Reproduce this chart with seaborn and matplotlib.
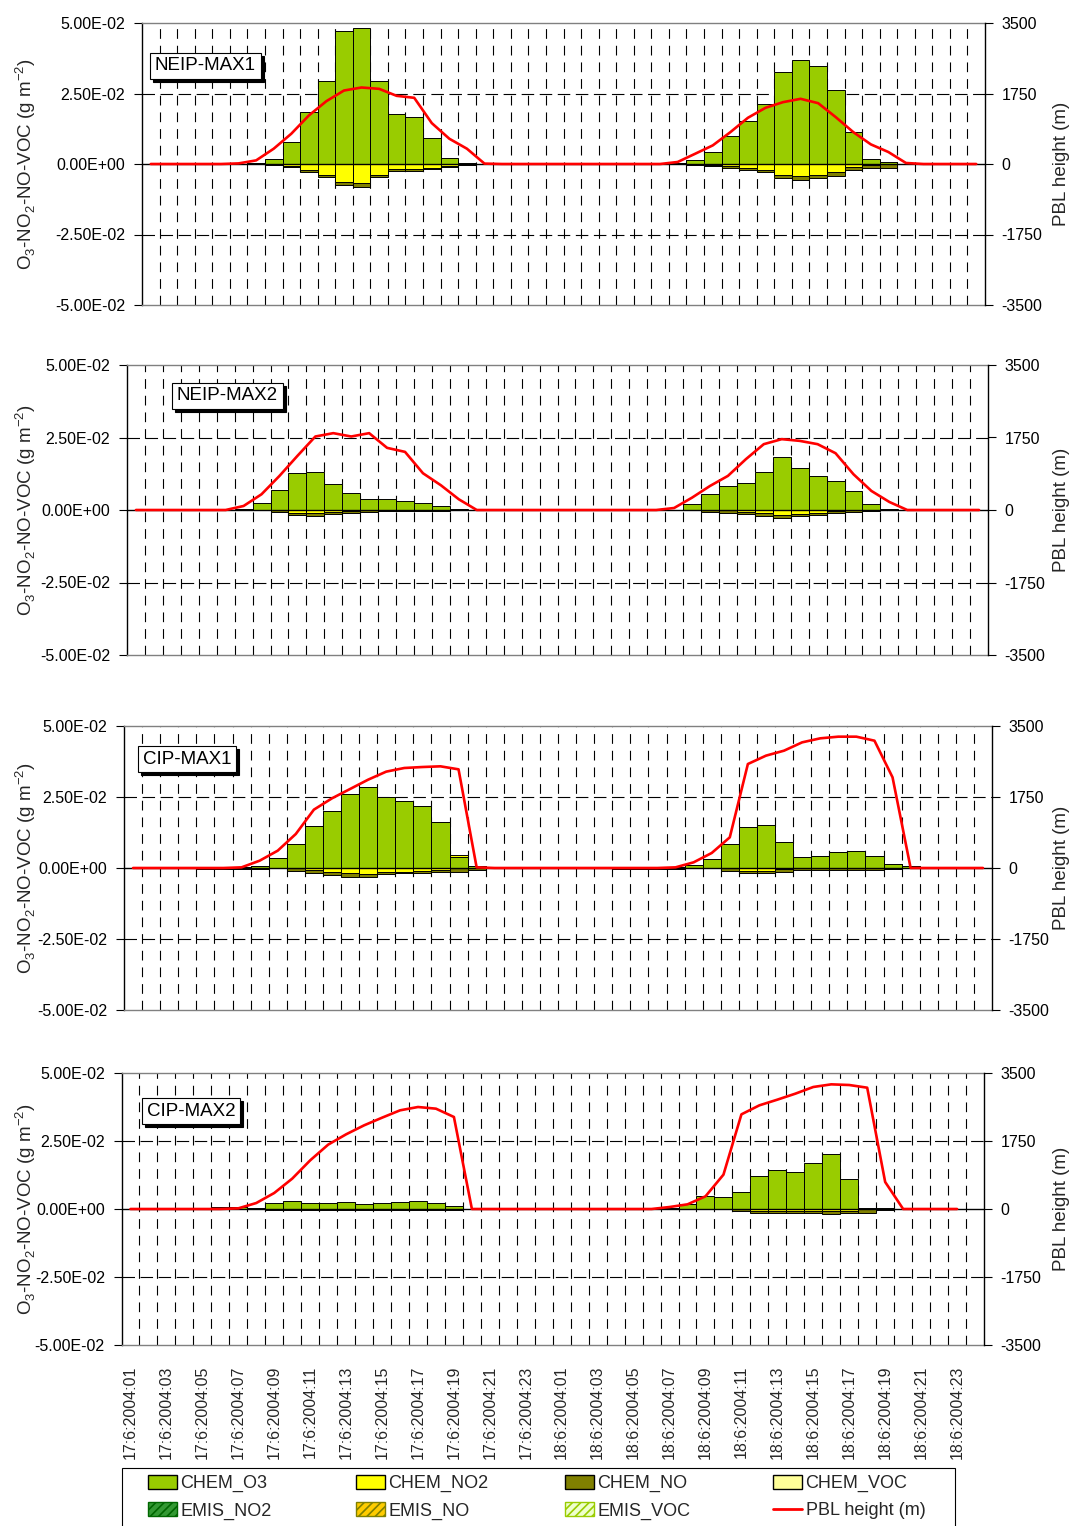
import matplotlib

matplotlib.use("Agg")

import matplotlib.pyplot as plt
import numpy as np
import pandas as pd
import seaborn as sns
from matplotlib.lines import Line2D
from matplotlib.patches import Patch, Rectangle
from matplotlib.transforms import offset_copy


# hourly categories, 17 and 18 June 2004 (48 bars per panel)
N_HOURS = 48
TICK_LABELS = [
    "17:6:2004:01", "17:6:2004:03", "17:6:2004:05", "17:6:2004:07",
    "17:6:2004:09", "17:6:2004:11", "17:6:2004:13", "17:6:2004:15",
    "17:6:2004:17", "17:6:2004:19", "17:6:2004:21", "17:6:2004:23",
    "18:6:2004:01", "18:6:2004:03", "18:6:2004:05", "18:6:2004:07",
    "18:6:2004:09", "18:6:2004:11", "18:6:2004:13", "18:6:2004:15",
    "18:6:2004:17", "18:6:2004:19", "18:6:2004:21", "18:6:2004:23",
]
PANEL_NAMES = ["NEIP-MAX1", "NEIP-MAX2", "CIP-MAX1", "CIP-MAX2"]

# --- NEIP-MAX1 ---
P1_O3 = [
    0, 0, 0, 0, 0, 0, 0.0003, 0.0018, 0.0077, 0.0184, 0.0295, 0.0470,
    0.0482, 0.0295, 0.0176, 0.0165, 0.0093, 0.0020, 0.0005, 0, 0, 0, 0, 0,
    0, 0, 0, 0, 0, 0, 0.0002, 0.0013, 0.0044, 0.0098, 0.0152, 0.0212,
    0.0325, 0.0369, 0.0346, 0.0262, 0.0112, 0.0019, 0.0008, 0, 0, 0, 0, 0,
]
P1_NO2 = [
    0, 0, 0, 0, 0, 0, 0, 0, -0.0008, -0.0022, -0.0038, -0.0064,
    -0.0066, -0.0039, -0.0019, -0.0017, -0.0013, -0.0006, 0, 0, 0, 0, 0, 0,
    0, 0, 0, 0, 0, 0, 0, 0, -0.0002, -0.0008, -0.0015, -0.0021,
    -0.0038, -0.0042, -0.0039, -0.0030, -0.0011, -0.0005, 0, 0, 0, 0, 0, 0,
]
P1_NO = [
    0, 0, 0, 0, 0, 0, 0, -0.0002, -0.0003, -0.0008, -0.0008, -0.0012,
    -0.0015, -0.0007, -0.0006, -0.0008, -0.0006, -0.0003, -0.0005, 0, 0, 0, 0, 0,
    0, 0, 0, 0, 0, 0, 0, -0.0002, -0.0004, -0.0005, -0.0007, -0.0008,
    -0.0011, -0.0013, -0.0011, -0.0011, -0.0012, -0.0010, -0.0015, 0, 0, 0, 0, 0,
]
P1_PBL = [
    0, 0, 0, 0, 0, 15, 90, 380, 751, 1205, 1560, 1824,
    1899, 1866, 1692, 1643, 1015, 627, 380, 10, 0, 0, 0, 0,
    0, 0, 0, 0, 0, 0, 50, 255, 462, 790, 1147, 1395,
    1535, 1618, 1510, 1164, 792, 487, 297, 25, 0, 0, 0, 0,
]

# --- NEIP-MAX2 ---
P2_O3 = [
    0, 0, 0, 0, 0, 0, 0.0003, 0.0025, 0.0068, 0.0129, 0.0131, 0.0090,
    0.0058, 0.0038, 0.0038, 0.0032, 0.0024, 0.0014, 0.0005, 0, 0, 0, 0, 0,
    0, 0, 0, 0, 0, 0, 0, 0.0022, 0.0055, 0.0083, 0.0092, 0.0130,
    0.0183, 0.0145, 0.0116, 0.0099, 0.0065, 0.0020, 0.0004, 0, 0, 0, 0, 0,
]
P2_NO2 = [
    0, 0, 0, 0, 0, 0, 0, 0, 0, -0.0012, -0.0012, -0.0008,
    -0.0004, 0, 0, 0, 0, 0, 0, 0, 0, 0, 0, 0,
    0, 0, 0, 0, 0, 0, 0, 0, 0, 0, -0.0006, -0.0012,
    -0.0018, -0.0015, -0.0009, -0.0004, 0, 0, 0, 0, 0, 0, 0, 0,
]
P2_NO = [
    0, 0, 0, 0, 0, 0, 0, 0, -0.0007, -0.0006, -0.0008, -0.0006,
    -0.0007, -0.0006, -0.0005, -0.0005, -0.0005, -0.0003, 0, 0, 0, 0, 0, 0,
    0, 0, 0, 0, 0, 0, 0, 0, -0.0007, -0.0009, -0.0007, -0.0009,
    -0.0008, -0.0007, -0.0007, -0.0006, -0.0007, -0.0004, 0, 0, 0, 0, 0, 0,
]
P2_PBL = [
    0, 0, 0, 0, 0, 0, 97, 380, 823, 1306, 1774, 1855,
    1774, 1855, 1500, 1403, 887, 597, 258, 0, 0, 0, 0, 0,
    0, 0, 0, 0, 0, 0, 48, 298, 580, 823, 1226, 1589,
    1710, 1669, 1589, 1371, 863, 460, 194, 0, 0, 0, 0, 0,
]

# --- CIP-MAX1 ---
P3_O3 = [
    0, 0, 0, 0, 0.0003, 0.0004, 0.0005, 0.0008, 0.0034, 0.0086, 0.0147, 0.0202,
    0.0259, 0.0286, 0.0250, 0.0237, 0.0219, 0.0162, 0.0040, 0.0006, 0.0002, 0, 0, 0,
    0, 0, 0, 0.0003, 0.0004, 0.0004, 0.0005, 0.0010, 0.0033, 0.0085, 0.0146, 0.0152,
    0.0093, 0.0040, 0.0044, 0.0055, 0.0061, 0.0042, 0.0014, 0.0007, 0.0003, 0, 0, 0,
]
P3_NO2 = [
    0, 0, 0, 0, 0, 0, 0, 0, 0, 0, -0.0008, -0.0015,
    -0.0018, -0.0020, -0.0015, -0.0013, -0.0010, -0.0008, 0.0006, 0, 0, 0, 0, 0,
    0, 0, 0, 0, 0, 0, 0, 0, 0, 0, -0.0012, -0.0012,
    -0.0004, 0, 0, 0, 0, 0, 0, 0, 0, 0, 0, 0,
]
P3_NO = [
    0, 0, 0, 0, -0.0003, -0.0003, -0.0003, -0.0003, 0, -0.0009, -0.0010, -0.0010,
    -0.0013, -0.0013, -0.0007, -0.0005, -0.0007, -0.0007, -0.0013, -0.0006, 0, 0, 0, 0,
    0, 0, 0, -0.0003, -0.0003, -0.0003, -0.0003, 0, 0, -0.0009, -0.0007, -0.0007,
    -0.0010, -0.0008, -0.0008, -0.0008, -0.0008, -0.0008, -0.0005, 0, 0, 0, 0, 0,
]
P3_PBL = [
    0, 0, 0, 0, 0, 0, 16, 180, 427, 838, 1438, 1717,
    1947, 2177, 2375, 2465, 2489, 2506, 2432, 16, 0, 0, 0, 0,
    0, 0, 0, 0, 0, 0, 16, 140, 370, 756, 2563, 2769,
    2892, 3097, 3196, 3237, 3237, 3138, 2235, 0, 0, 0, 0, 0,
]

# --- CIP-MAX2 ---
P4_O3 = [
    0, 0, 0, 0, 0, 0.0007, 0.0006, 0.0004, 0.0022, 0.0029, 0.0023, 0.0023,
    0.0025, 0.0020, 0.0023, 0.0027, 0.0028, 0.0023, 0.0010, 0, 0, 0, 0, 0,
    0, 0, 0, 0.0004, 0.0004, 0.0003, 0.0003, 0.0020, 0.0047, 0.0044, 0.0063, 0.0123,
    0.0145, 0.0135, 0.0170, 0.0202, 0.0112, 0.0005, 0.0003, 0, 0, 0, 0, 0,
]
P4_NO2 = [
    0, 0, 0, 0, 0, 0, 0, 0, 0, 0, 0, 0,
    0, 0, 0, 0, 0, 0, 0, 0, 0, 0, 0, 0,
    0, 0, 0, 0, 0, 0, 0, 0, 0, 0, 0, -0.0008,
    -0.0008, -0.0007, -0.0007, -0.0009, -0.0006, 0, 0, 0, 0, 0, 0, 0,
]
P4_NO = [
    0, 0, 0, 0, 0, 0, 0, 0, -0.0004, -0.0004, -0.0004, -0.0004,
    -0.0004, -0.0004, -0.0004, -0.0004, -0.0004, -0.0004, -0.0003, 0, 0, 0, 0, 0,
    0, 0, 0, 0, 0, 0, 0, 0, 0, 0, -0.0006, -0.0008,
    -0.0008, -0.0007, -0.0006, -0.0008, -0.0008, -0.0015, -0.0004, 0, 0, 0, 0, 0,
]
P4_PBL = [
    0, 0, 0, 0, 0, 0, 17, 154, 412, 781, 1252, 1656,
    1922, 2153, 2350, 2539, 2625, 2582, 2368, 0, 0, 0, 0, 0,
    0, 0, 0, 0, 0, 0, 51, 120, 326, 884, 2436, 2668,
    2814, 2968, 3140, 3208, 3191, 3122, 695, 0, 0, 0, 0, np.nan,
]

COLORS = {
    "CHEM_O3": "#99CC00",
    "CHEM_NO2": "#FFFF00",
    "CHEM_NO": "#808000",
    "CHEM_VOC": "#FFFF99",
}

# plot-area rectangles in pixels: left, right, top, bottom
PANEL_BOXES = [
    (142, 985, 23, 305),
    (127, 988, 365, 655),
    (124, 992, 726, 1010),
    (121.5, 984, 1073, 1345),
]
# left edge (px) of the name box text, vertical centre (px)
LABEL_POS = [(155, 66), (177, 396), (143, 759), (147, 1111)]
# legend: frame (left, right, top) and left edge of each column, px
LEGEND_FRAME = (122, 955, 1468)
LEGEND_COLS = [148, 356, 565, 773]

FIG_W, FIG_H = 1076, 1526


def _stacked_bars(ax, layers):
    """Excel-like stacking: positives upward, negatives downward.
    Drawn as cumulative overlays with seaborn, top layer first."""
    hours = np.arange(N_HOURS)
    pos_cum = np.zeros(N_HOURS)
    neg_cum = np.zeros(N_HOURS)
    pos_layers, neg_layers = [], []
    for values, color in layers:
        v = np.asarray(values, dtype=float)
        p = np.clip(v, 0, None)
        n = np.clip(v, None, 0)
        if p.any():
            pos_cum = pos_cum + p
            pos_layers.append((pos_cum.copy(), color))
        if n.any():
            neg_cum = neg_cum + n
            neg_layers.append((neg_cum.copy(), color))

    for cum, color in list(reversed(pos_layers)) + list(reversed(neg_layers)):
        sns.barplot(
            x=hours, y=cum, ax=ax, color=color, saturation=1, width=1.0,
            edgecolor="black", linewidth=0.7, errorbar=None,
        )


def _draw_panel(fig, idx, o3, no2, no, pbl, show_xlabels):
    l, r, t, b = PANEL_BOXES[idx]
    w, h = r - l, b - t
    ax = fig.add_axes([l / FIG_W, 1 - b / FIG_H, w / FIG_W, h / FIG_H])

    # grid: dashed lines between categories and at +-2.5E-02
    ax.vlines(np.arange(N_HOURS - 1) + 0.5, -0.05, 0.05, colors="black",
              linestyles=(0, (7, 5)), linewidth=0.8, zorder=0.5)
    ax.hlines([0.025, -0.025], -0.5, N_HOURS - 0.5, colors="black",
              linestyles=(0, (9, 4)), linewidth=0.8, zorder=0.5)

    _stacked_bars(ax, [
        (o3, COLORS["CHEM_O3"]),
        (no2, COLORS["CHEM_NO2"]),
        (no, COLORS["CHEM_NO"]),
    ])
    ax.axhline(0, color="black", linewidth=1.0, zorder=3)

    ax.set_xlim(-0.5, N_HOURS - 0.5)
    ax.set_ylim(-0.05, 0.05)
    ax.set_yticks([-0.05, -0.025, 0, 0.025, 0.05])
    ax.set_yticklabels(["-5.00E-02", "-2.50E-02", "0.00E+00", "2.50E-02", "5.00E-02"])
    ax.tick_params(axis="y", left=True, direction="out", length=6, width=0.8,
                   labelsize=11.5, pad=6, colors="black")
    ax.set_xlabel("")
    ax.set_ylabel(r"O$_\mathregular{3}$-NO$_\mathregular{2}$-NO-VOC (g m$^\mathregular{-2}$)",
                  fontsize=13.5)
    ax.yaxis.set_label_coords((38 - l) / w, 0.5)

    if show_xlabels:
        ax.set_xticks(np.arange(0, N_HOURS, 2))
        ax.set_xticklabels(TICK_LABELS, rotation=90, fontsize=11.5)
        ax.tick_params(axis="x", bottom=False, pad=9)
    else:
        ax.set_xticks([])

    for side in ("top", "bottom"):
        ax.spines[side].set_color("#808080")
        ax.spines[side].set_linewidth(1.0)
    ax.spines["left"].set_color("black")
    ax.spines["left"].set_linewidth(1.0)
    ax.spines["right"].set_visible(False)

    # PBL height on the secondary axis
    ax2 = ax.twinx()
    line_df = pd.DataFrame({"hour": np.arange(N_HOURS), "pbl": pbl}).dropna()
    sns.lineplot(data=line_df, x="hour", y="pbl", ax=ax2, color="#FF0000",
                 linewidth=1.9, legend=False)
    ax2.set_ylim(-3500, 3500)
    ax2.set_yticks([-3500, -1750, 0, 1750, 3500])
    ax2.set_yticklabels(["-3500", "-1750", "0", "1750", "3500"])
    ax2.tick_params(axis="y", right=True, direction="out", length=6, width=0.8,
                    labelsize=11.5, pad=6, colors="black")
    ax2.set_xlabel("")
    ax2.set_ylabel("PBL height (m)", fontsize=13.5)
    ax2.yaxis.set_label_coords((1053 - l) / w, 0.5)
    for side in ("top", "bottom", "left"):
        ax2.spines[side].set_visible(False)
    ax2.spines["right"].set_color("black")
    ax2.spines["right"].set_linewidth(1.0)
    ax.set_xlim(-0.5, N_HOURS - 0.5)

    # panel name in a box with a drop shadow
    tx, ty = LABEL_POS[idx]
    fx, fy = (tx - l) / w, (b - ty) / h
    shadow = offset_copy(ax.transAxes, fig=fig, x=3, y=-3, units="dots")
    ax.text(fx, fy, PANEL_NAMES[idx], transform=shadow, fontsize=13.5,
            ha="left", va="center", color="black", zorder=6,
            bbox=dict(boxstyle="square,pad=0.25", fc="black", ec="black", lw=0.8))
    ax.text(fx, fy, PANEL_NAMES[idx], transform=ax.transAxes, fontsize=13.5,
            ha="left", va="center", color="black", zorder=7,
            bbox=dict(boxstyle="square,pad=0.25", fc="white", ec="black", lw=0.8))
    return ax


def main():
    sns.set_theme(style="white")
    plt.rcParams["font.family"] = ["Liberation Sans", "DejaVu Sans"]
    plt.rcParams["lines.scale_dashes"] = False
    plt.rcParams["hatch.linewidth"] = 1.2

    fig = plt.figure(figsize=(FIG_W / 100, FIG_H / 100), dpi=100)
    fig.patch.set_facecolor("white")

    panels = [
        (P1_O3, P1_NO2, P1_NO, P1_PBL),
        (P2_O3, P2_NO2, P2_NO, P2_PBL),
        (P3_O3, P3_NO2, P3_NO, P3_PBL),
        (P4_O3, P4_NO2, P4_NO, P4_PBL),
    ]
    for i, (o3, no2, no, pbl) in enumerate(panels):
        _draw_panel(fig, i, o3, no2, no, pbl, show_xlabels=(i == len(panels) - 1))

    # legend: one column per group, evenly spaced as in the original, shared frame
    columns = [
        [Patch(facecolor=COLORS["CHEM_O3"], edgecolor="black", label="CHEM_O3"),
         Patch(facecolor="#339933", edgecolor="#006600", hatch="////", label="EMIS_NO2")],
        [Patch(facecolor=COLORS["CHEM_NO2"], edgecolor="black", label="CHEM_NO2"),
         Patch(facecolor="#FFCC00", edgecolor="#808000", hatch="////", label="EMIS_NO")],
        [Patch(facecolor=COLORS["CHEM_NO"], edgecolor="black", label="CHEM_NO"),
         Patch(facecolor="#EEFFCC", edgecolor="#99CC00", hatch="////", label="EMIS_VOC")],
        [Patch(facecolor=COLORS["CHEM_VOC"], edgecolor="black", label="CHEM_VOC"),
         Line2D([0], [0], color="#FF0000", linewidth=2, label="PBL height (m)")],
    ]
    for x_px, col_handles in zip(LEGEND_COLS, columns):
        fig.legend(
            handles=col_handles, loc="upper left",
            bbox_to_anchor=(x_px / FIG_W, 1 - 1475 / FIG_H),
            frameon=False, fontsize=13, handlelength=1.6, handleheight=0.8,
            handletextpad=0.2, labelspacing=0.55, borderpad=0, borderaxespad=0,
        )
    fl, fr, ft = LEGEND_FRAME
    fig.add_artist(Rectangle((fl / FIG_W, -0.01), (fr - fl) / FIG_W, 1 - ft / FIG_H + 0.01,
                             transform=fig.transFigure, fill=False,
                             edgecolor="black", linewidth=0.8))

    fig.savefig("out.png", dpi=100, facecolor="white")
    plt.close(fig)


if __name__ == "__main__":
    main()
